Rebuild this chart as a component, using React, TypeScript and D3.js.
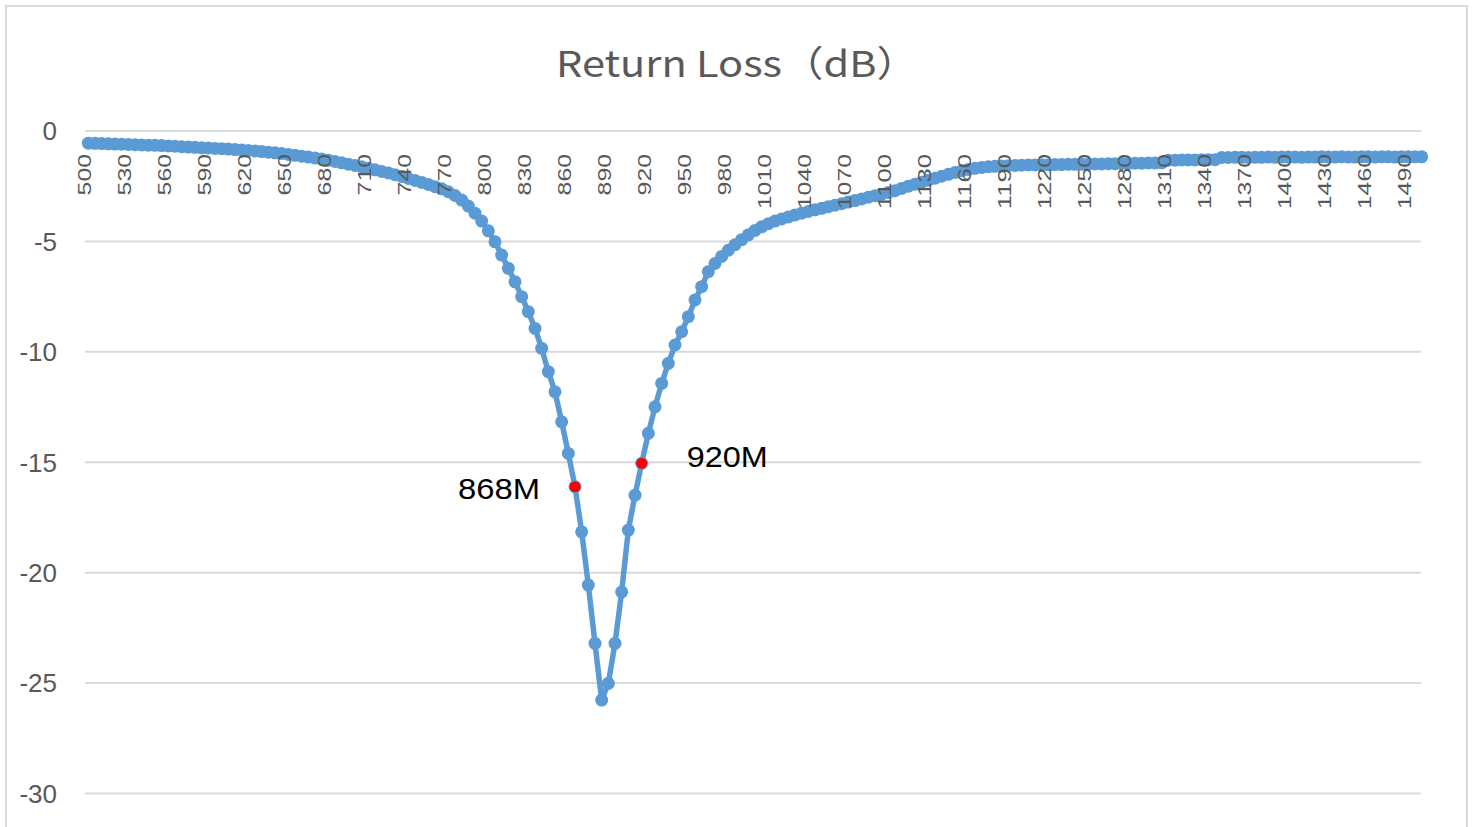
import React from "react";
import * as d3 from "d3";

const frequencies: number[] = [
  500, 505, 510, 515, 520, 525, 530, 535, 540, 545, 550, 555, 560, 565, 570, 575, 580, 585, 590, 595,
  600, 605, 610, 615, 620, 625, 630, 635, 640, 645, 650, 655, 660, 665, 670, 675, 680, 685, 690, 695,
  700, 705, 710, 715, 720, 725, 730, 735, 740, 745, 750, 755, 760, 765, 770, 775, 780, 785, 790, 795,
  800, 805, 810, 815, 820, 825, 830, 835, 840, 845, 850, 855, 860, 865, 870, 875, 880, 885, 890, 895,
  900, 905, 910, 915, 920, 925, 930, 935, 940, 945, 950, 955, 960, 965, 970, 975, 980, 985, 990, 995,
  1000, 1005, 1010, 1015, 1020, 1025, 1030, 1035, 1040, 1045, 1050, 1055, 1060, 1065, 1070, 1075, 1080, 1085, 1090, 1095,
  1100, 1105, 1110, 1115, 1120, 1125, 1130, 1135, 1140, 1145, 1150, 1155, 1160, 1165, 1170, 1175, 1180, 1185, 1190, 1195,
  1200, 1205, 1210, 1215, 1220, 1225, 1230, 1235, 1240, 1245, 1250, 1255, 1260, 1265, 1270, 1275, 1280, 1285, 1290, 1295,
  1300, 1305, 1310, 1315, 1320, 1325, 1330, 1335, 1340, 1345, 1350, 1355, 1360, 1365, 1370, 1375, 1380, 1385, 1390, 1395,
  1400, 1405, 1410, 1415, 1420, 1425, 1430, 1435, 1440, 1445, 1450, 1455, 1460, 1465, 1470, 1475, 1480, 1485, 1490, 1495,
  1500,
];

const returnLoss: number[] = [
  -0.55, -0.56, -0.57, -0.58, -0.59, -0.6, -0.61, -0.62, -0.63, -0.64,
  -0.65, -0.66, -0.68, -0.69, -0.71, -0.73, -0.74, -0.76, -0.77, -0.79,
  -0.8, -0.82, -0.84, -0.86, -0.88, -0.9, -0.93, -0.96, -0.99, -1.02,
  -1.06, -1.1, -1.14, -1.18, -1.22, -1.27, -1.32, -1.38, -1.44, -1.5,
  -1.56, -1.62, -1.69, -1.76, -1.83, -1.9, -1.98, -2.06, -2.15, -2.24,
  -2.33, -2.42, -2.52, -2.62, -2.75, -2.92, -3.13, -3.4, -3.72, -4.08,
  -4.52, -5.02, -5.62, -6.22, -6.83, -7.5, -8.18, -8.94, -9.84, -10.9,
  -11.81, -13.17, -14.6, -16.11, -18.15, -20.56, -23.2, -25.77, -25.01, -23.2,
  -20.87, -18.07, -16.49, -15.05, -13.69, -12.49, -11.43, -10.52, -9.69, -9.09,
  -8.41, -7.65, -7.05, -6.37, -6.0, -5.68, -5.4, -5.15, -4.92, -4.7,
  -4.5, -4.34, -4.2, -4.08, -3.98, -3.89, -3.8, -3.72, -3.64, -3.57,
  -3.5, -3.43, -3.36, -3.29, -3.22, -3.15, -3.08, -3.0, -2.93, -2.86,
  -2.78, -2.7, -2.6, -2.5, -2.41, -2.32, -2.23, -2.14, -2.05, -1.96,
  -1.88, -1.8, -1.74, -1.69, -1.65, -1.62, -1.6, -1.58, -1.57, -1.56,
  -1.55, -1.54, -1.54, -1.53, -1.53, -1.52, -1.52, -1.51, -1.51, -1.5,
  -1.5, -1.49, -1.49, -1.48, -1.48, -1.47, -1.47, -1.46, -1.46, -1.45,
  -1.45, -1.44, -1.32, -1.32, -1.31, -1.31, -1.31, -1.3, -1.3, -1.3,
  -1.2, -1.2, -1.19, -1.19, -1.2, -1.19, -1.19, -1.18, -1.19, -1.18,
  -1.18, -1.18, -1.19, -1.18, -1.18, -1.17, -1.18, -1.18, -1.17, -1.18,
  -1.18, -1.17, -1.17, -1.18, -1.17, -1.17, -1.18, -1.17, -1.17, -1.17,
  -1.17,
];

const xTickLabels: number[] = [
  500, 530, 560, 590, 620, 650, 680, 710, 740, 770, 800, 830, 860, 890, 920, 950, 980,
  1010, 1040, 1070, 1100, 1130, 1160, 1190, 1220, 1250, 1280, 1310, 1340, 1370, 1400,
  1430, 1460, 1490,
];

const yTicks: number[] = [0, -5, -10, -15, -20, -25, -30];

const highlightFreqs: number[] = [865, 915];
const highlightLabels: string[] = ["868M", "920M"];

const title = "Return Loss（dB）";

const W = 1474;
const H = 827;
const BLUE = "#5B9BD5";
const GREY_TEXT = "#595959";

export default function App() {
  const x = d3
    .scaleBand<number>()
    .domain(frequencies)
    .range([85, 1425])
    .paddingInner(0)
    .paddingOuter(0);
  const cx = (f: number) => (x(f) ?? 0) + x.bandwidth() / 2;
  const y = d3.scaleLinear().domain([-30, 0]).range([793.5, 131]);

  const data = frequencies.map((f, i) => ({ f, v: returnLoss[i] }));
  const line = d3
    .line<{ f: number; v: number }>()
    .x((d) => cx(d.f))
    .y((d) => y(d.v));

  const labelOffsets = [
    { dx: -35, dy: 12, anchor: "end", len: 82 },
    { dx: 45, dy: 4, anchor: "start", len: 81 },
  ];

  return (
    <svg
      width={W}
      height={H}
      style={{ position: "absolute", left: 0, top: 0, background: "#fff" }}
    >
      <rect x={0} y={0} width={W} height={H} fill="#fff" />
      <rect x={6} y={6} width={1461} height={840} fill="none" stroke="#D9D9D9" strokeWidth={2} />
      <text
        x={737}
        y={77}
        textAnchor="middle"
        fontFamily="'Noto Sans CJK SC', 'Noto Sans', sans-serif"
        fontSize={36}
        fill={GREY_TEXT}
        textLength={362}
        lengthAdjust="spacingAndGlyphs"
      >
        {title}
      </text>
      <g>
        {yTicks.map((t) => (
          <line
            key={t}
            x1={85}
            x2={1421}
            y1={y(t)}
            y2={y(t)}
            stroke="#D9D9D9"
            strokeWidth={2}
          />
        ))}
      </g>
      <g>
        {yTicks.map((t) => (
          <text
            key={t}
            x={57}
            y={y(t)}
            dy="0.36em"
            textAnchor="end"
            fontFamily="'Liberation Sans', Arial, sans-serif"
            fontSize={26}
            fill={GREY_TEXT}
          >
            {t}
          </text>
        ))}
      </g>
      <path d={line(data) ?? ""} fill="none" stroke={BLUE} strokeWidth={5.5} strokeLinejoin="round" />
      <g>
        {data.map((d) => (
          <circle key={d.f} cx={cx(d.f)} cy={y(d.v)} r={6.5} fill={BLUE} />
        ))}
      </g>
      <g>
        {highlightFreqs.map((f, i) => {
          const v = returnLoss[frequencies.indexOf(f)];
          const o = labelOffsets[i];
          return (
            <g key={f}>
              <circle cx={cx(f)} cy={y(v)} r={5.5} fill="#FF0000" />
              <text
                x={cx(f) + o.dx}
                y={y(v) + o.dy}
                textAnchor={o.anchor as any}
                fontFamily="'Liberation Sans', Arial, sans-serif"
                fontSize={30}
                fill="#000"
                textLength={o.len}
                lengthAdjust="spacingAndGlyphs"
              >
                {highlightLabels[i]}
              </text>
            </g>
          );
        })}
      </g>
      <g>
        {xTickLabels.map((t) => {
          const s = String(t);
          return (
            <text
              key={t}
              transform={`translate(${cx(t) - 4},154) rotate(-90)`}
              dy="0.36em"
              textAnchor="end"
              fontFamily="'Liberation Sans', Arial, sans-serif"
              fontSize={19}
              fill={GREY_TEXT}
              textLength={s.length * 13.8}
              lengthAdjust="spacingAndGlyphs"
            >
              {s}
            </text>
          );
        })}
      </g>
    </svg>
  );
}
